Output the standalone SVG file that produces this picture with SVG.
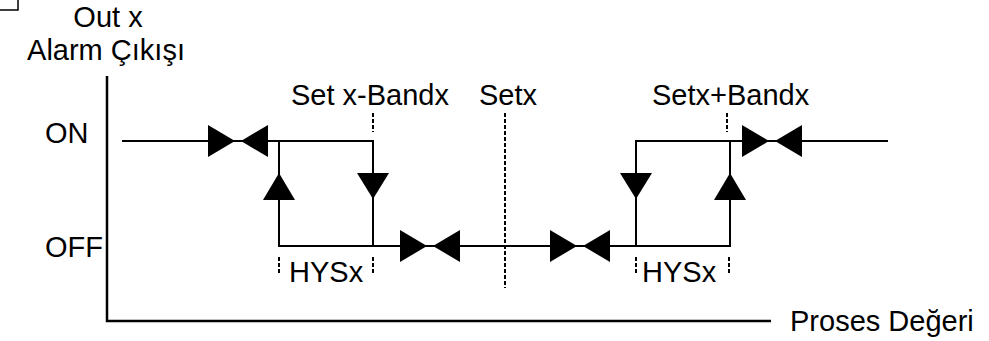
<svg xmlns="http://www.w3.org/2000/svg" width="989" height="341" viewBox="0 0 989 341">
  <defs>
    <style>
      .ln { stroke: #000; stroke-width: 2; fill: none; }
      .ax { stroke: #000; stroke-width: 2.5; fill: none; }
      .dash { stroke: #000; stroke-width: 2; fill: none; stroke-dasharray: 4 2; }
      .txt { font-family: "Liberation Sans", Arial, sans-serif; font-size: 29px; fill: #000; }
      .fill { fill: #000; }
    </style>
    <path id="bowtie" class="fill" d="M-30,-16 L-3,0 L-30,16 Z M3,0 L30,-16 L30,16 Z"/>
    <path id="up" class="fill" d="M0,-13 L16,14 L-16,14 Z"/>
    <path id="down" class="fill" d="M0,13 L16,-13 L-16,-13 Z"/>
  </defs>
  <rect width="989" height="341" fill="#fff"/>
  <rect x="-3" y="-3" width="21" height="13" fill="#fff" stroke="#000" stroke-width="1.5"/>

  <g id="axes">
    <path class="ax" d="M107,76 V321 H771"/>
    <text class="txt" x="108" y="27" text-anchor="middle">Out x</text>
    <text class="txt" x="106" y="60" text-anchor="middle">Alarm Çıkışı</text>
    <text class="txt" x="790" y="331">Proses Değeri</text>
    <text class="txt" x="45" y="143">ON</text>
    <text class="txt" x="45" y="257">OFF</text>
  </g>

  <g id="connectors">
    <path class="ln" d="M122,141 H373 V246"/>
    <path class="ln" d="M279,141 V246 H730 V141"/>
    <path class="ln" d="M636,246 V141 H888"/>
  </g>

  <g id="markers">
    <use href="#bowtie" x="238" y="141"/>
    <use href="#bowtie" x="430" y="246"/>
    <use href="#bowtie" x="580" y="246"/>
    <use href="#bowtie" x="772" y="141"/>
    <use href="#up" x="279" y="186"/>
    <use href="#down" x="373" y="186"/>
    <use href="#down" x="636" y="186"/>
    <use href="#up" x="730" y="186"/>
  </g>

  <g id="setpoints">
    <path class="dash" d="M373,113 V132"/>
    <text class="txt" x="291" y="105">Set x-Bandx</text>
    <path class="dash" d="M505,113 V288"/>
    <text class="txt" x="479" y="105">Setx</text>
    <path class="dash" d="M727,113 V132"/>
    <text class="txt" x="652" y="105">Setx+Bandx</text>
  </g>

  <g id="hys-left">
    <path class="dash" d="M279,257 V275 M373,257 V275"/>
    <text class="txt" x="289" y="282">HYSx</text>
  </g>
  <g id="hys-right">
    <path class="dash" d="M636,257 V275 M729,257 V275"/>
    <text class="txt" x="642" y="282">HYSx</text>
  </g>
</svg>
